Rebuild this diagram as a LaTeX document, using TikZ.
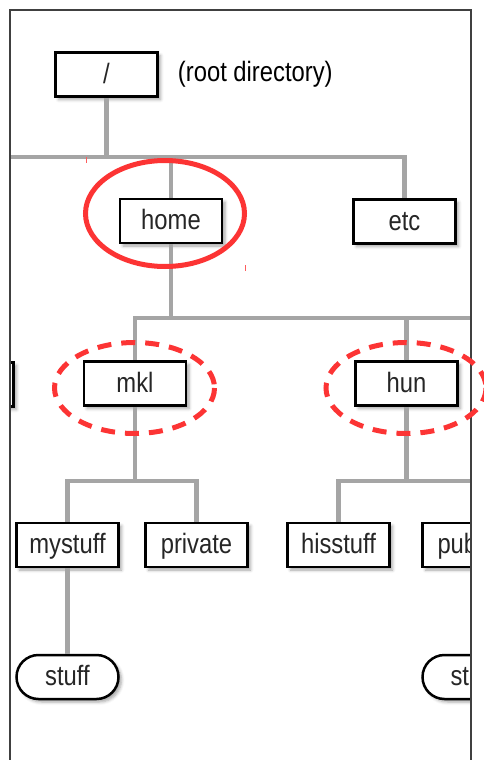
\documentclass[tikz,border=0pt]{standalone}
\usepackage{fontspec}
\setmainfont{Liberation Sans}[FakeStretch=0.85]
\usetikzlibrary{positioning,shadows.blur}
\definecolor{wire}{RGB}{165,165,165}
\definecolor{marker}{RGB}{252,52,52}

\begin{document}
\begin{tikzpicture}[x=1pt, y=-1pt, font=\fontsize{28}{32}\selectfont,
  dir/.style={draw, line width=2.5pt, fill=white, text=black!85,
    minimum width=102pt, minimum height=44pt, inner sep=0pt,
    text height=19pt, text depth=2pt,
    blur shadow={shadow xshift=3pt, shadow yshift=-3pt,
      shadow blur radius=3pt, shadow opacity=35}},
  file/.style={dir, rounded corners=22pt},
  link/.style={draw=wire, line width=4.5pt},
  ring/.style={draw=marker, line width=5pt},
  dashring/.style={ring, dash pattern=on 14pt off 10pt}]
  \useasboundingbox (0,0) rectangle (483,760);
  \begin{scope}
    \clip (10,10) rectangle (471,760);
    \node[dir] (root) at (106.5,74.5) {/};
    \node[right=19pt of root, inner sep=0pt] (rootnote) {(root directory)};
    \node[dir] (home) at (171,221) {home};
    \node[dir] (etc) at (404.5,221.5) {etc};
    \node[dir] (other) at (-37.5,384.5) {};
    \node[dir] (mkl) at (135,383.5) {mkl};
    \node[dir] (hun) at (406.5,383.5) {hun};
    \node[dir] (mystuff) at (67.5,545) {mystuff};
    \node[dir] (private) at (196.5,545) {private};
    \node[dir] (hisstuff) at (338.5,545) {hisstuff};
    \node[dir, inner xsep=15pt, text width=72pt, align=left] (pub) at (473.5,545) {pub};
    \node[file] (stuff) at (67.5,677) {stuff};
    \node[file, inner xsep=28pt, text width=46pt, align=left] (hisfile) at (473.5,677) {st};
    % buses
    \coordinate (b1) at (0,157);
    \coordinate (b2) at (483,318);
    \coordinate (b3) at (0,481);
    \draw[link] (root.south) -- (root |- b1);
    \draw[link] (b1) -| (etc.north);
    \draw[link] (home.north) -- (home |- b1);
    \draw[link] (home.south) -- (home |- b2);
    \draw[link] (b2) -| (mkl.north);
    \draw[link] (hun.north) -- (hun |- b2);
    \draw[link] (mkl.south) -- (mkl |- b3);
    \draw[link] (mystuff.north) |- (private |- b3) -- (private.north);
    \draw[link] (hun.south) -- (hun |- b3);
    \draw[link] (hisstuff.north) |- (pub |- b3) -- (pub.north);
    \draw[link] (mystuff.south) -- (stuff.north);
  \end{scope}
  \draw[line width=1.2pt, black!75] (10,760) -- (10,10) -- (471,10) -- (471,760);
  \draw[ring] (165,213.5) ellipse [x radius=79.5, y radius=53];
  \draw[dashring] (134.5,388) ellipse [x radius=80, y radius=45.5];
  \draw[dashring] (406,388) ellipse [x radius=80, y radius=45.5];
  \draw[marker!80, line width=1pt] (86,157) -- (86,163);
  \draw[marker!80, line width=1pt] (245,265) -- (245,271);
\end{tikzpicture}
\end{document}
